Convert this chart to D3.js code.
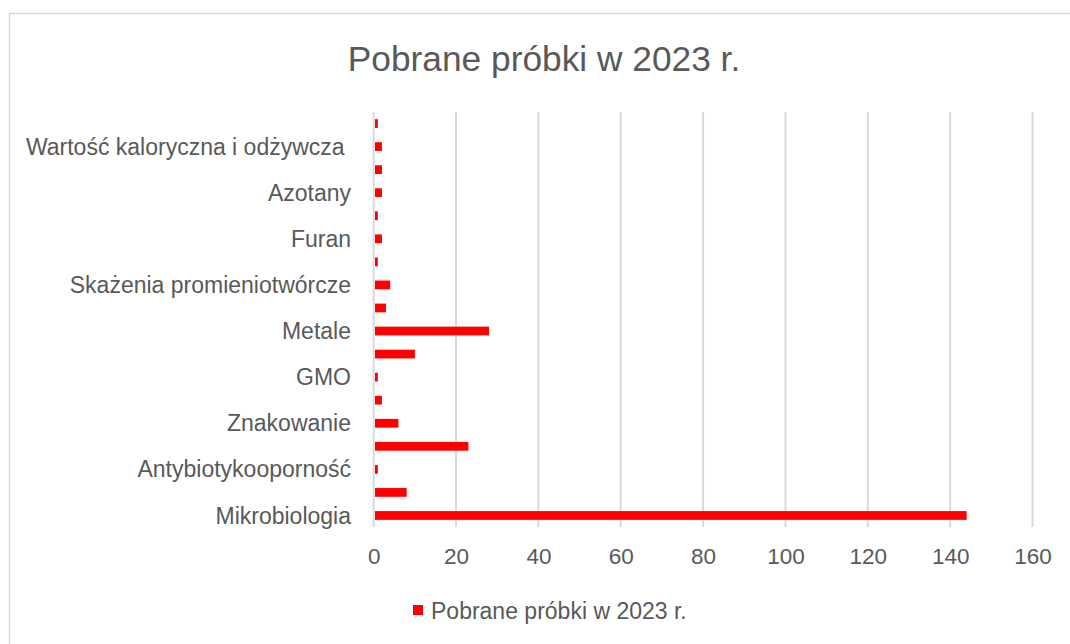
<!DOCTYPE html>
<html><head><meta charset="utf-8">
<script src="https://cdn.jsdelivr.net/npm/d3@7"></script>
<style>body{margin:0;background:#fff}svg{display:block}</style>
</head><body><svg id="c" width="1070" height="644"></svg>
<script>
// Categories bottom-to-top (Excel shows every other label)
const categories = [
  "Mikrobiologia","Pozostałości weterynaryjne","Antybiotykooporność","Pozostałości pestycydów",
  "Znakowanie","Alergeny","GMO","Mykotoksyny","Metale","Dodatki do żywności",
  "Skażenia promieniotwórcze","Dioksyny i PCB","Furan","Akrylamid","Azotany","WWA",
  "Wartość kaloryczna i odżywcza ","Materiały do kontaktu z żywnością"
];
const values = [144,8,1,23,6,2,1,10,28,3,4,1,2,1,2,2,2,1];
const xTicks = [0,20,40,60,80,100,120,140,160];
const seriesName = "Pobrane próbki w 2023 r.";
const title = "Pobrane próbki w 2023 r.";

const svg = d3.select("#c");
const font = "'Liberation Sans', Arial, sans-serif";
const txt = "#595959";

svg.append("rect").attr("x",9.5).attr("y",13.5).attr("width",1080).attr("height",660)
  .attr("fill","#fff").attr("stroke","#d9d9d9").attr("stroke-width",1.5);

svg.append("text").attr("x",544).attr("y",71).attr("text-anchor","middle")
  .attr("font-family",font).attr("font-size",35.3).attr("fill",txt).text(title);

const x = d3.scaleLinear().domain([0,160]).range([373.7,1032.5]);
const y = d3.scaleBand().domain(categories.slice().reverse()).range([112,527]).paddingInner(0.62).paddingOuter(0.31);

// gridlines
svg.append("g").selectAll("line").data(xTicks).join("line")
  .attr("x1",d=>x(d)).attr("x2",d=>x(d)).attr("y1",112).attr("y2",527)
  .attr("stroke","#d9d9d9").attr("stroke-width",2);

// bars
svg.append("g").selectAll("rect").data(categories).join("rect")
  .attr("x",x(0)+1.3).attr("y",d=>y(d)).attr("height",y.bandwidth())
  .attr("width",(d,i)=>Math.max(0,x(values[i])-x(0)-1.3))
  .attr("fill","#ff0000");

// x axis
const xa = svg.append("g").attr("transform","translate(0,527)")
  .call(d3.axisBottom(x).tickValues(xTicks).tickSize(0).tickPadding(21).tickFormat(d3.format("d")));
xa.select(".domain").remove();
xa.selectAll("text").attr("font-family",font).attr("font-size",22.5).attr("fill",txt);

// y axis (every other label)
const shown = categories.filter((d,i)=>i%2===0);
const ya = svg.append("g").attr("transform","translate(351,0)")
  .call(d3.axisLeft(y).tickValues(shown).tickSize(0).tickPadding(0));
ya.select(".domain").remove();
ya.selectAll("text").attr("font-family",font).attr("font-size",23).attr("fill",txt)
  .attr("dy","0.35em").style("white-space","pre");

// legend
const lg = svg.append("g");
lg.append("rect").attr("x",413).attr("y",605).attr("width",10).attr("height",10).attr("fill","#ff0000");
lg.append("text").attr("x",431).attr("y",619).attr("font-family",font).attr("font-size",23)
  .attr("fill",txt).text(seriesName);
</script></body></html>
